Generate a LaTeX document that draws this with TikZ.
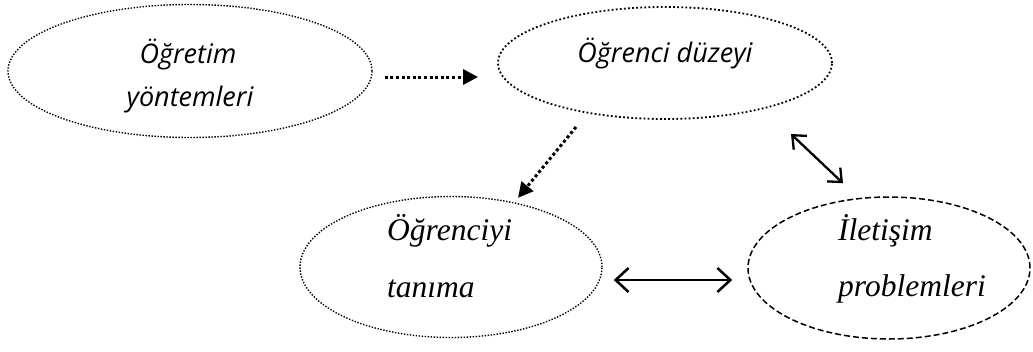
\documentclass[tikz,border=0pt]{standalone}
\usepackage{fontspec}
\setmainfont{Liberation Serif}
\newfontfamily\calfont{Open Sans}
\usetikzlibrary{shapes.geometric,arrows.meta}
\tikzset{
  oval/.style={ellipse,inner sep=0pt,draw=black},
  dotsA/.style={line width=1.4pt,dash pattern=on 1.4pt off 1.6pt},
  dotsB/.style={line width=1.8pt,dash pattern=on 1.8pt off 2.3pt},
  dashesC/.style={line width=1.5pt,dash pattern=on 6pt off 3pt},
  caltext/.style={font=\calfont\itshape\fontsize{27pt}{34pt}\selectfont,inner sep=0pt,anchor=base},
  timtext/.style={font=\itshape\fontsize{31.5pt}{38pt}\selectfont,inner sep=0pt,anchor=base west},
  dotarrow/.style={line width=3pt,dash pattern=on 3pt off 2.6pt,-{Triangle[length=15pt,width=15pt]}},
  dblarrow/.style={line width=2.5pt,{Straight Barb[length=13pt,width=24pt]}-{Straight Barb[length=13pt,width=24pt]}},
  dblarrowS/.style={line width=2.3pt,{Straight Barb[length=11pt,width=19pt]}-{Straight Barb[length=11pt,width=19pt]}}
}
\begin{document}
\begin{tikzpicture}[x=1pt,y=1pt]
\useasboundingbox (0,0) rectangle (1033,-351);
% ellipses
\node[oval,dotsA,minimum width=364pt,minimum height=133pt] (e1) at (190,-71) {};
\node[oval,dotsB,minimum width=334pt,minimum height=112pt] (e2) at (665,-63) {};
\node[oval,dotsA,minimum width=302pt,minimum height=141pt] (e3) at (451,-267) {};
\node[oval,dashesC,minimum width=282pt,minimum height=142pt] (e4) at (889,-268) {};
% texts
\node[caltext] (t1a) at (188,-63) {Öğretim};
\node[caltext] (t1b) at (190,-106) {yöntemleri};
\node[caltext] (t2) at (665,-62) {Öğrenci düzeyi};
\node[timtext] (t3a) at (387,-240) {Öğrenciyi};
\node[timtext] (t3b) at (387,-297) {tanıma};
\node[timtext] (t4a) at (838,-240) {İletişim};
\node[timtext] (t4b) at (838,-296) {problemleri};
% connectors
\draw[dotarrow] ([shift={(12pt,-6pt)}]e1.east) -- ([shift={(-19pt,-14pt)}]e2.west);
\draw[dotarrow] ([shift={(-89pt,-64pt)}]e2.center) -- ([shift={(67pt,-2pt)}]e3.north);
\draw[dblarrow] ([shift={(11pt,-13pt)}]e3.east) -- ([shift={(-15pt,-12pt)}]e4.west);
\draw[dblarrowS] ([shift={(126pt,-71pt)}]e2.center) -- ([shift={(-46pt,13pt)}]e4.north);
\end{tikzpicture}
\end{document}
